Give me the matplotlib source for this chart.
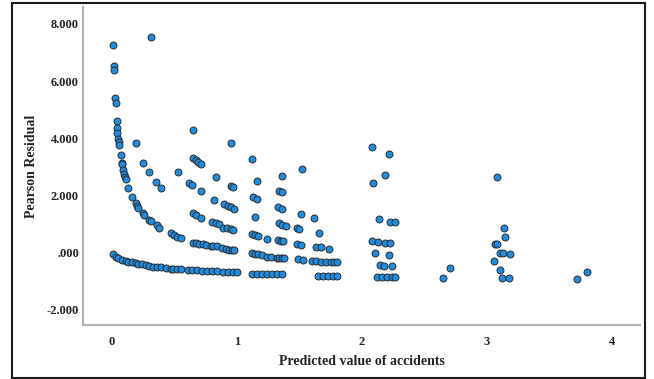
import matplotlib
matplotlib.use("Agg")
import matplotlib.pyplot as plt
from matplotlib.patches import Rectangle

# ---- data ----
pred_zero = [0.008, 0.03, 0.05, 0.08, 0.11, 0.13, 0.16, 0.19, 0.21, 0.24, 0.27, 0.30,
             0.33, 0.36, 0.39, 0.43, 0.47, 0.49, 0.52, 0.55, 0.61, 0.64, 0.68, 0.72,
             0.76, 0.80, 0.84, 0.89, 0.93, 0.97, 1.00, 1.12, 1.16, 1.20, 1.24, 1.28,
             1.32, 1.36, 1.65, 1.69, 1.73, 1.77, 1.80, 2.12, 2.16, 2.20, 2.24, 2.27,
             2.65, 3.12, 3.18, 3.72]
resid_zero = [-0.05, -0.14, -0.20, -0.26, -0.29, -0.31, -0.34, -0.36, -0.38, -0.41, -0.44, -0.47,
              -0.49, -0.51, -0.51, -0.54, -0.56, -0.57, -0.57, -0.58, -0.60, -0.62, -0.62, -0.63,
              -0.63, -0.64, -0.64, -0.66, -0.67, -0.67, -0.68, -0.74, -0.74, -0.75, -0.75, -0.75,
              -0.76, -0.76, -0.80, -0.81, -0.81, -0.81, -0.81, -0.85, -0.85, -0.85, -0.85, -0.85,
              -0.87, -0.90, -0.90, -0.92]

pred_one = [0.01, 0.02, 0.02, 0.025, 0.03, 0.04, 0.045, 0.045, 0.05, 0.055, 0.06, 0.07,
            0.08, 0.085, 0.09, 0.10, 0.106, 0.11, 0.13, 0.165, 0.19, 0.20, 0.21, 0.25,
            0.26, 0.30, 0.31, 0.36, 0.38, 0.47, 0.50, 0.52, 0.55, 0.65, 0.67, 0.70,
            0.73, 0.75, 0.79, 0.81, 0.84, 0.88, 0.91, 0.94, 0.96, 0.98, 1.12, 1.15,
            1.17, 1.20, 1.245, 1.27, 1.32, 1.34, 1.36, 1.38, 1.49, 1.53, 1.60, 1.63,
            1.67, 1.71, 1.75, 1.78, 1.80, 2.15, 2.18, 2.24, 2.71, 3.11, 3.80]
resid_one = [7.25, 6.52, 6.39, 5.40, 5.23, 4.60, 4.35, 4.18, 3.98, 3.87, 3.77, 3.42,
             3.15, 3.09, 2.89, 2.75, 2.66, 2.58, 2.25, 1.94, 1.75, 1.64, 1.55, 1.38,
             1.32, 1.14, 1.10, 0.97, 0.87, 0.70, 0.62, 0.56, 0.50, 0.35, 0.33, 0.31,
             0.29, 0.27, 0.25, 0.23, 0.22, 0.15, 0.13, 0.11, 0.10, 0.09, -0.02, -0.04,
             -0.06, -0.07, -0.14, -0.16, -0.17, -0.17, -0.17, -0.17, -0.23, -0.26, -0.28, -0.30,
             -0.31, -0.32, -0.33, -0.33, -0.34, -0.44, -0.45, -0.45, -0.55, -0.59, -0.66]

pred_more = [0.31, 0.19, 0.25, 0.30, 0.35, 0.39, 0.53, 0.62, 0.645, 0.65, 0.67, 0.71,
             0.80, 0.83, 0.86, 0.89, 0.92, 0.95, 0.97, 1.12, 1.15, 1.17, 1.24, 1.33,
             1.35, 1.37, 1.48, 1.51, 1.63, 1.67, 1.74, 2.08, 2.13, 2.19, 2.23, 2.11,
             2.22, 3.06, 3.11, 3.13, 3.19, 3.07, 3.08, 3.15, 3.14,
             0.71, 0.65, 0.65, 0.67, 0.69, 0.71, 0.83, 0.82, 0.90, 0.93, 0.95, 0.98,
             0.95, 0.95, 0.97, 1.12, 1.16, 1.13, 1.165, 1.15, 1.52, 1.365, 1.34, 1.365,
             1.33, 1.365, 1.51, 1.62, 1.34, 1.36, 1.39, 1.48, 1.50, 1.66, 2.085, 2.22,
             2.19, 2.09, 3.08, 2.14, 2.23, 2.27]
resid_more = [7.54, 3.85, 3.15, 2.81, 2.46, 2.25, 2.81, 2.43, 2.37, 1.38, 1.32, 1.22,
              1.06, 1.03, 1.00, 0.87, 0.85, 0.82, 0.79, 0.64, 0.62, 0.59, 0.48, 0.44,
              0.42, 0.41, 0.29, 0.27, 0.21, 0.19, 0.14, 0.40, 0.37, 0.34, 0.33, -0.02,
              -0.07, -0.29, -0.01, -0.01, -0.03, 0.29, 0.29, 0.56, 0.85,
              2.17, 4.29, 3.30, 3.23, 3.16, 3.09, 2.66, 1.84, 1.69, 1.64, 1.59, 1.53,
              3.85, 2.33, 2.29, 3.28, 2.52, 1.94, 1.87, 1.24, 2.92, 2.69, 2.17, 2.11,
              1.61, 1.54, 1.34, 1.21, 1.03, 0.98, 0.94, 0.85, 0.82, 0.68, 3.68, 3.45,
              2.72, 2.44, 2.66, 1.17, 1.08, 1.06]

x_ticks = [0, 1, 2, 3, 4]
y_ticks = [-2, 0, 2, 4, 6, 8]
y_tick_labels = ["-2.000", ".000", "2.000", "4.000", "6.000", "8.000"]

# ---- figure ----
W, H = 654, 379
fig = plt.figure(figsize=(W / 100, H / 100), dpi=100)
fig.patch.set_facecolor("white")
ax = fig.add_axes([83 / W, 1 - 325 / H, (640 - 83) / W, (325 - 7) / H])

serif = ["Liberation Serif", "DejaVu Serif"]
xs = pred_zero + pred_one + pred_more
ys = resid_zero + resid_one + resid_more
ax.scatter(xs, ys, s=25, facecolor="#1f8ce0", edgecolor="#2b2b2b",
           linewidths=0.7, zorder=3)

ax.set_xlim(-0.23, 4.226)
ax.set_ylim(-2.53, 8.59)
ax.set_xticks(x_ticks)
ax.set_xticklabels([str(t) for t in x_ticks])
ax.set_yticks(y_ticks)
ax.set_yticklabels(y_tick_labels)
ax.tick_params(axis="both", length=0)
ax.tick_params(axis="x", pad=8)
ax.tick_params(axis="y", pad=3)
for lab in ax.get_xticklabels() + ax.get_yticklabels():
    lab.set_fontfamily(serif)
    lab.set_fontweight("bold")
    lab.set_fontsize(9)
    lab.set_color("#222222")

for side in ["top", "right"]:
    ax.spines[side].set_visible(False)
for side in ["left", "bottom"]:
    ax.spines[side].set_color("#b4b4b4")
    ax.spines[side].set_linewidth(1.6)

ax.set_xlabel("Predicted value of accidents", family=serif, fontweight="bold",
              fontsize=10, color="#222222", labelpad=5)
ax.set_ylabel("Pearson Residual", family=serif, fontweight="bold",
              fontsize=10, color="#222222", labelpad=6)

# outer border of the picture
fig.patches.append(Rectangle((12 / W, 1 - 378 / H), (645 - 12) / W, (378 - 3) / H,
                             transform=fig.transFigure, fill=False,
                             edgecolor="#1a1a1a", linewidth=1.5))

fig.savefig("out.png", dpi=100)
